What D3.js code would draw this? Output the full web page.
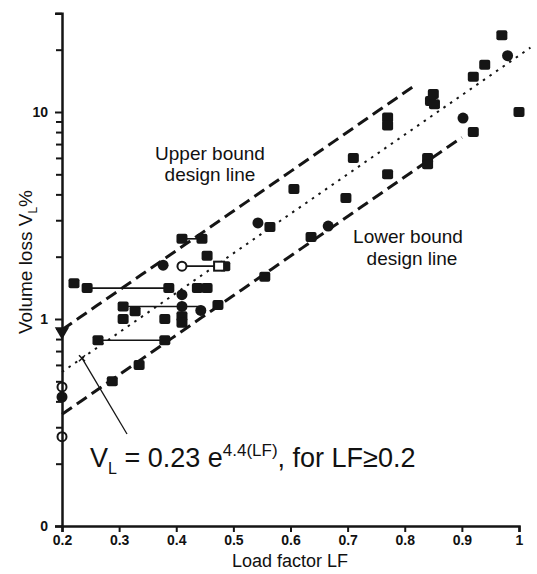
<!DOCTYPE html>
<html>
<head>
<meta charset="utf-8">
<script src="https://cdn.jsdelivr.net/npm/d3@7"></script>
<style>
  body { margin: 0; background: #fff; }
  svg text { font-family: "Liberation Sans", Arial, sans-serif; fill: #111; }
</style>
</head>
<body>
<svg id="chart" width="537" height="574"></svg>
<script>
// Data: [load factor LF, volume loss VL %]
const squares = [
  [0.97, 23.5], [0.94, 16.9], [0.92, 14.8], [0.85, 12.2], [0.845, 11.3], [0.852, 10.9],
  [1.0, 10.0], [0.92, 8.0], [0.77, 9.4], [0.77, 8.6], [0.77, 5.0], [0.84, 6.0], [0.84, 5.6],
  [0.71, 6.0], [0.606, 4.25], [0.697, 3.84], [0.564, 2.78], [0.636, 2.49], [0.555, 1.6],
  [0.41, 2.44], [0.445, 2.44], [0.454, 2.02], [0.485, 1.8], [0.437, 1.41], [0.454, 1.41],
  [0.221, 1.49], [0.244, 1.41], [0.387, 1.41], [0.307, 1.15], [0.328, 1.09], [0.473, 1.17],
  [0.307, 1.0], [0.38, 1.0], [0.41, 1.03], [0.41, 0.96], [0.263, 0.79], [0.38, 0.79],
  [0.335, 0.6], [0.288, 0.5]
];
const circles = [
  [0.98, 18.7], [0.902, 9.35], [0.543, 2.91], [0.666, 2.81], [0.377, 1.82],
  [0.41, 1.31], [0.41, 1.15], [0.443, 1.1], [0.2, 0.42]
];
const triangles = [[0.2, 0.87]];
const openCircles = [[0.41, 1.8], [0.2, 0.47], [0.2, 0.27]];
const openSquares = [[0.475, 1.8]];
const segments = [
  [[0.244, 1.41], [0.387, 1.41]],
  [[0.307, 1.15], [0.445, 1.15]],
  [[0.263, 0.79], [0.38, 0.79]],
  [[0.41, 2.44], [0.445, 2.44]],
  [[0.41, 1.8], [0.475, 1.8]]
];

// Design lines: VL = 0.23 e^(4.4 LF), bounds x/÷ 1.6
const coef = 0.23, expo = 4.4, band = 1.6;
const designLines = [
  { name: "upper", factor: band, from: 0.2, to: 0.817, dash: "12,6", width: 3 },
  { name: "mean", factor: 1, from: 0.2, to: 1.02, dash: "2.5,5.5", width: 2 },
  { name: "lower", factor: 1 / band, from: 0.2, to: 0.9, dash: "12,6", width: 3 }
];
const markLF = 0.235;

const xTicks = [0.2, 0.3, 0.4, 0.5, 0.6, 0.7, 0.8, 0.9, 1];
const yMajor = [0.1, 1, 10];
const yMinor = [0.2, 0.3, 0.4, 0.5, 0.6, 0.7, 0.8, 0.9, 2, 3, 4, 5, 6, 7, 8, 9, 20, 30];

const svg = d3.select("#chart");
const ink = "#151515";

const x = d3.scaleLinear().domain([0.2, 1]).range([62, 519]);
const y = d3.scaleLog().domain([0.1, 30]).range([526, 526 - Math.log10(300) * 207]);

// Design lines
designLines.forEach(function (d) {
  const pts = d3.range(0, 41).map(function (i) {
    const lf = d.from + (d.to - d.from) * i / 40;
    return [lf, coef * Math.exp(expo * lf) * d.factor];
  });
  svg.append("path")
    .datum(pts)
    .attr("fill", "none")
    .attr("stroke", ink)
    .attr("stroke-width", d.width)
    .attr("stroke-dasharray", d.dash)
    .attr("d", d3.line().x(p => x(p[0])).y(p => y(p[1])));
});

// Connecting segments
svg.append("g")
  .selectAll("line")
  .data(segments)
  .join("line")
  .attr("x1", d => x(d[0][0]))
  .attr("y1", d => y(d[0][1]))
  .attr("x2", d => x(d[1][0]))
  .attr("y2", d => y(d[1][1]))
  .attr("stroke", ink)
  .attr("stroke-width", 1.6);

// Squares
svg.append("g")
  .selectAll("rect")
  .data(squares)
  .join("rect")
  .attr("x", d => x(d[0]) - 5.5)
  .attr("y", d => y(d[1]) - 5)
  .attr("width", 11)
  .attr("height", 10)
  .attr("rx", 2)
  .attr("fill", ink);

// Circles
svg.append("g")
  .selectAll("circle")
  .data(circles)
  .join("circle")
  .attr("cx", d => x(d[0]))
  .attr("cy", d => y(d[1]))
  .attr("r", 5.5)
  .attr("fill", ink);

// Triangles
svg.append("g")
  .selectAll("path")
  .data(triangles)
  .join("path")
  .attr("transform", d => "translate(" + x(d[0]) + "," + y(d[1]) + ") rotate(180)")
  .attr("d", d3.symbol(d3.symbolTriangle, 90))
  .attr("fill", ink);

// Open symbols
svg.append("g")
  .selectAll("rect")
  .data(openSquares)
  .join("rect")
  .attr("x", d => x(d[0]) - 5)
  .attr("y", d => y(d[1]) - 4.5)
  .attr("width", 10)
  .attr("height", 9)
  .attr("fill", "#fff")
  .attr("stroke", ink)
  .attr("stroke-width", 2);

svg.append("g")
  .selectAll("circle")
  .data(openCircles)
  .join("circle")
  .attr("cx", d => x(d[0]))
  .attr("cy", d => y(d[1]))
  .attr("r", 4.5)
  .attr("fill", "#fff")
  .attr("stroke", ink)
  .attr("stroke-width", 2);

// Axes
const yAxisMajor = d3.axisLeft(y).tickValues(yMajor).tickSize(7).tickPadding(7)
  .tickFormat(d => d === 0.1 ? "0" : d3.format("d")(d));
const yAxisMinor = d3.axisLeft(y).tickValues(yMinor).tickSize(6).tickFormat("");
const xAxis = d3.axisBottom(x).tickValues(xTicks).tickSize(6).tickPadding(3)
  .tickFormat(d => d === 1 ? "1" : d3.format(".1f")(d));

const gy = svg.append("g").attr("transform", "translate(62,0)").call(yAxisMajor);
svg.append("g").attr("transform", "translate(62,0)").call(yAxisMinor).select(".domain").remove();
const gx = svg.append("g").attr("transform", "translate(0,526)").call(xAxis);

[gy, gx].forEach(function (g) {
  g.attr("font-size", 14).attr("font-family", null);
  g.select(".domain").attr("stroke", ink).attr("stroke-width", 2.5);
  g.selectAll(".tick text")
    .style("font-size", "14px")
    .style("font-weight", "bold")
    .attr("fill", ink);
});
svg.selectAll(".tick line").attr("stroke", ink).attr("stroke-width", 2);

// Annotation marker on the mean line
const mx = x(markLF), my = y(coef * Math.exp(expo * markLF));
svg.append("path")
  .attr("d", "M" + (mx - 3) + "," + (my - 3) + "L" + (mx + 3) + "," + (my + 3) +
             "M" + (mx + 3) + "," + (my - 3) + "L" + (mx - 3) + "," + (my + 3))
  .attr("stroke", ink).attr("stroke-width", 1.5);
svg.append("line")
  .attr("x1", mx).attr("y1", my)
  .attr("x2", 127).attr("y2", 434)
  .attr("stroke", ink).attr("stroke-width", 1.3);

// Labels
svg.append("text").attr("x", 210).attr("y", 160).attr("text-anchor", "middle")
  .style("font-size", "19px").text("Upper bound");
svg.append("text").attr("x", 210).attr("y", 181).attr("text-anchor", "middle")
  .style("font-size", "19px").text("design line");
svg.append("text").attr("x", 408).attr("y", 243).attr("text-anchor", "middle")
  .style("font-size", "19px").text("Lower bound");
svg.append("text").attr("x", 412).attr("y", 265).attr("text-anchor", "middle")
  .style("font-size", "19px").text("design line");

const f = svg.append("text").attr("x", 90).attr("y", 467).style("font-size", "27px");
f.append("tspan").text("V");
f.append("tspan").attr("dy", 7).style("font-size", "16px").text("L");
f.append("tspan").attr("dy", -7).text(" = 0.23 e");
f.append("tspan").attr("dy", -11).style("font-size", "17px").text("4.4(LF)");
f.append("tspan").attr("dy", 11).text(", for LF\u22650.2");

svg.append("text").attr("x", 290).attr("y", 567).attr("text-anchor", "middle")
  .style("font-size", "18px").text("Load factor LF");

const yl = svg.append("text")
  .attr("transform", "translate(32,262) rotate(-90)")
  .attr("text-anchor", "middle")
  .style("font-size", "19px");
yl.append("tspan").text("Volume loss V");
yl.append("tspan").attr("dy", 5).style("font-size", "12px").text("L");
yl.append("tspan").attr("dy", -5).text("%");
</script>
</body>
</html>
